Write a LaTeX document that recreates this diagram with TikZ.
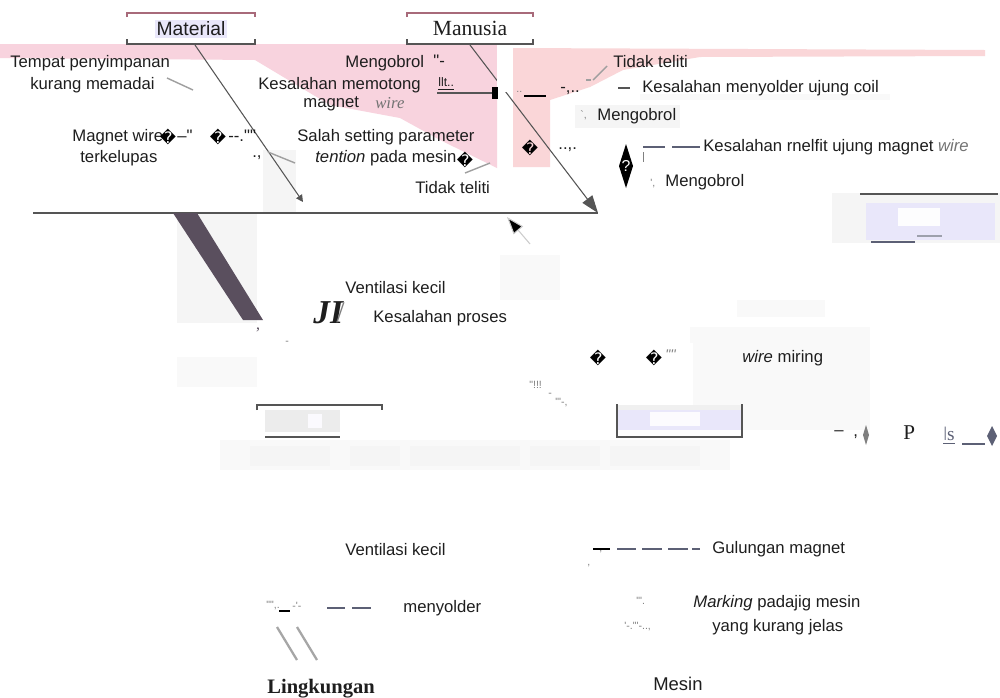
\documentclass[tikz,border=0pt]{standalone}
\usepackage{fontspec}
\setmainfont{Liberation Sans}
\newfontfamily\lsans{Liberation Sans}
\newfontfamily\lserif{Liberation Serif}
\newfontfamily\djv{DejaVu Sans}
\usetikzlibrary{arrows.meta,shapes.geometric}
\definecolor{pinkA}{HTML}{F8D3DE}
\definecolor{pinkB}{HTML}{FAD6D8}
\definecolor{lgray}{HTML}{F5F5F5}
\definecolor{fgray}{HTML}{F9F9F9}
\definecolor{lav}{HTML}{E9E7FA}
\definecolor{txt}{HTML}{1E1E1E}
\definecolor{linec}{HTML}{555555}
\definecolor{thickc}{HTML}{5A4F5E}
\definecolor{topred}{HTML}{A86A7A}
\definecolor{slate}{HTML}{5C6075}
\tikzset{
  lbl/.style={anchor=west, inner sep=0pt, text=txt, font=\lsans\fontsize{9.5}{11}\selectfont},
  sm/.style={anchor=west, inner sep=0pt, text=gray, font=\lsans\fontsize{6}{7}\selectfont},
  rep/.style={anchor=center, inner sep=0pt, text=black, font=\djv\fontsize{9}{10}\selectfont},
  stroke/.style={draw=gray!75, line width=0.8pt},
  boneline/.style={draw=linec, line width=0.6pt},
  dashseg/.style={draw=slate, line width=1pt},
}
\begin{document}
\begin{tikzpicture}[x=0.02cm,y=-0.02cm]
\useasboundingbox (0,0) rectangle (1000,697);
\fill[white] (0,0) rectangle (1000,697);
% faint gray patches
\fill[lgray] (177,213) rectangle (257,323);
\fill[lgray] (263,150) rectangle (296,212);
\fill[lgray] (575,105) rectangle (680,128);
\fill[fgray] (640,94) rectangle (890,100);
\fill[lgray] (832,193) rectangle (1000,243);
\fill[fgray] (737,300) rectangle (825,317);
\fill[fgray] (690,327) rectangle (870,343);
\fill[fgray] (693,343) rectangle (870,430);
\fill[fgray] (177,357) rectangle (257,387);
\fill[fgray] (500,255) rectangle (560,300);
\fill[fgray] (220,440) rectangle (730,470);
\fill[lgray] (250,446) rectangle (330,466);
\fill[lgray] (350,446) rectangle (400,466);
\fill[lgray] (410,446) rectangle (520,466);
\fill[lgray] (530,446) rectangle (600,466);
\fill[lgray] (610,446) rectangle (700,466);
% pink regions
\fill[pinkA] (0,44) -- (497,44) -- (497,168) -- (440,140) -- (400,118) -- (330,105) -- (255,60) -- (0,58) -- cycle;
\fill[pinkB] (513,48) -- (985,50) -- (985,56) -- (700,57) -- (623,70) -- (590,87) -- (550,100) -- (550,167) -- (513,167) -- cycle;
% Material box
\node[fill=lav, inner sep=1pt, minimum height=10pt, text=txt, font=\lsans\fontsize{11}{13}\selectfont] (mat) at (191,29) {Material};
\draw[topred, line width=0.8pt] (127,17) -- (127,13) -- (255,13) -- (255,17);
\draw[linec, line width=0.8pt] (127,39) -- (127,44) -- (255,44) -- (255,39);
% Manusia box
\fill[white] (407,13) rectangle (533,44);
\node[inner sep=1pt, text=txt, font=\lserif\fontsize{12.3}{14}\selectfont] (man) at (470,28) {Manusia};
\draw[topred, line width=0.8pt] (407,17) -- (407,13) -- (533,13) -- (533,17);
\draw[linec, line width=0.8pt] (407,39) -- (407,44) -- (533,44) -- (533,39);
% spine and bones
\coordinate (spL) at (33,213);
\coordinate (spR) at (598,213);
\draw[linec, line width=0.7pt] (spL) -- (spR);
\coordinate (matb) at (195,45);
\coordinate (matE) at (303,202);
\draw[boneline, -{Triangle[length=4pt,width=4pt]}] (matb) -- (matE);
\coordinate (manb) at (470,45);
\draw[boneline, -{Triangle[length=10pt,width=7pt]}] (manb) -- (spR);
\fill[white] (497,45) rectangle (513,92);
\coordinate (mesA) at (530,244);
\coordinate (mesE) at (507,217);
\draw[draw=gray!40, line width=0.6pt, -{Triangle[length=10pt,width=7pt,fill=black]}] (mesA) -- (mesE);
% thick Lingkungan bar
\fill[thickc] (173,213) -- (197,213) -- (263,320) -- (243,320) -- cycle;
\node[inner sep=0pt, text=thickc, font=\lserif\fontsize{9}{10}\selectfont] (comma1) at (258,330) {,};
% small strokes
\draw[stroke] (167,78) -- (193,90);
\draw[stroke] (268,152) -- (295,163);
\draw[stroke] (465,173) -- (490,163);
\draw[stroke] (593,80) -- (607,66);
\draw[stroke] (586,80) -- (591,80);
% Kesalahan memotong arrow
\coordinate (kmA) at (437,93);
\coordinate (kmB) at (493,93);
\draw[linec, line width=0.7pt] (kmA) -- (kmB);
\fill[black] (492,87) rectangle (498,99);
% left texts
\node[lbl] (t1) at (10,63) {Tempat penyimpanan};
\node[lbl] (t2) at (30,85) {kurang memadai};
\node[lbl] (t3) at (72,137) {Magnet wire};
\node[rep] (r1) at (168,137) {\char"FFFD};
\node[lbl] (t3b) at (177,136) {–"};
\node[rep] (r2) at (218,137) {\char"FFFD};
\node[lbl] (t3c) at (228,136) {-{}-{}.""};
\node[lbl] (t4) at (80,158) {terkelupas};
\node[lbl] (t5) at (252,158) {.,};
\node[lbl] (t6) at (345,63) {Mengobrol};
\node[lbl] (t6b) at (433,61) {"-};
\node[lbl] (t7) at (258,85) {Kesalahan memotong};
\node[anchor=west, inner sep=0pt, text=txt, font=\lsans\fontsize{7}{8}\selectfont] (t7b) at (438,84) {\underline{llt..}};
\node[anchor=west, inner sep=0pt, text=txt, font=\lsans\fontsize{9.5}{11}\selectfont] (t8) at (303,104) {magnet\,};
\node[anchor=west, inner sep=0pt, text=gray!90!black, font=\lserif\itshape\fontsize{9.5}{11}\selectfont] (t8b) at (375,103) {wire};
\node[lbl] (t9) at (297,137) {Salah setting parameter};
\node[lbl] (t10) at (315,158) {\textit{tention} pada mesin};
\node[rep] (r3) at (465,160) {\char"FFFD};
\node[lbl] (t11) at (415,188) {Tidak teliti};
% right texts
\node[lbl] (t12) at (613,62) {Tidak teliti};
\node[sm] (t13) at (516,92) {..};
\draw[black, line width=1pt] (524,96) -- (546,96);
\node[lbl] (t14) at (560,91) {-,..};
\draw[linec, line width=0.7pt] (618,88) -- (630,88);
\node[lbl] (t15) at (642,88) {Kesalahan menyolder ujung coil};
\node[sm] (t16) at (580,115) {`,};
\node[lbl] (t17) at (597,116) {Mengobrol};
\node[rep] (r4) at (530,148) {\char"FFFD};
\node[lbl] (t18) at (558,150) {..,.};
\draw[dashseg] (643,147) -- (665,147);
\draw[dashseg] (672,147) -- (700,147);
\node[lbl] (t19) at (703,147) {Kesalahan rnelfit ujung magnet {\color{gray!90!black}\textit{wire}}};
\fill[black] (626,144) -- (633,166) -- (626,188) -- (619,166) -- cycle;
\node[inner sep=0pt, text=white, font=\lsans\fontsize{9}{10}\selectfont] (q1) at (626,166) {?};
\draw[gray, line width=0.5pt] (643,152) -- (643,162);
\node[sm] (t20) at (650,184) {',};
\node[lbl] (t21) at (665,182) {Mengobrol};
% right box
\draw[linec, line width=0.8pt] (860,194) -- (998,194);
\fill[lav] (866,203) rectangle (995,240);
\fill[white!90!lav] (898,208) rectangle (940,226);
\draw[slate, line width=1.2pt] (871,242) -- (915,242);
\draw[slate!60, line width=0.8pt] (917,236) -- (942,236);
% middle lower texts
\node[lbl] (t22) at (345,288) {Ventilasi kecil};
\node[anchor=west, inner sep=0pt, text=txt, font=\lserif\bfseries\itshape\fontsize{19}{21}\selectfont] (t23) at (313,313) {JI};
\node[anchor=west, inner sep=0pt, text=gray, font=\lserif\fontsize{17}{19}\selectfont] (t23b) at (336,313) {/};
\node[lbl] (t24) at (373,318) {Kesalahan proses};
\node[sm] (t25) at (285,343) {-};
\node[rep] (r5) at (598,358) {\char"FFFD};
\node[rep] (r6) at (654,358) {\char"FFFD};
\node[anchor=west, inner sep=0pt, text=gray, font=\lsans\itshape\fontsize{8}{9}\selectfont] (t26) at (665,355) {"''};
\node[lbl] (t27) at (742,358) {\textit{wire} miring};
\node[sm] (t28) at (529,385) {"!!!};
\node[sm] (t29) at (548,395) {-};
\node[sm] (t30) at (555,403) {"'-,};
% Lingkungan box
\draw[linec, line width=0.7pt] (257,410) -- (257,405) -- (382,405) -- (382,410);
\fill[gray!15] (265,410) rectangle (340,432);
\fill[white!85!gray] (272,414) rectangle (283,428);
\fill[white!85!gray] (290,414) rectangle (302,428);
\fill[white!80!lav] (308,414) rectangle (322,428);
\draw[linec, line width=0.8pt] (265,437) -- (340,437);
% Mesin box
\fill[gray!12] (617,405) rectangle (742,410);
\fill[lav] (617,410) rectangle (742,430);
\fill[white!85!lav] (650,412) rectangle (700,426);
\draw[linec, line width=0.6pt] (617,404) -- (617,437) -- (742,437) -- (742,404);
% right-bottom glyphs
\node[lbl] (t31) at (834,433) {–};
\node[lbl] (t32) at (853,437) {,};
\fill[gray] (866,425) -- (869,435) -- (866,445) -- (863,435) -- cycle;
\node[anchor=west, inner sep=0pt, text=txt, font=\lserif\fontsize{12}{14}\selectfont] (t33) at (903,433) {P};
\node[anchor=west, inner sep=0pt, text=slate, font=\lserif\fontsize{11}{13}\selectfont] (t34) at (943,436) {\underline{ǀs}};
\draw[slate, line width=1pt] (962,444) -- (985,444);
\fill[slate] (992,426) -- (997,436) -- (992,446) -- (987,436) -- cycle;
% bottom section
\node[lbl] (t35) at (345,550) {Ventilasi kecil};
\node[sm] (t36) at (599,552) {,};
\node[sm] (t37) at (587,566) {,};
\draw[black, line width=1pt] (593,549) -- (610,549);
\draw[dashseg] (617,549) -- (636,549);
\draw[dashseg] (642,549) -- (662,549);
\draw[dashseg] (668,549) -- (688,549);
\draw[dashseg, line width=0.7pt] (692,549) -- (700,549);
\node[lbl] (t38) at (712,549) {Gulungan magnet};
\node[sm] (t39) at (266,606) {"",.};
\draw[black, line width=0.7pt] (279,611) -- (290,611);
\node[sm] (t40) at (292,606) {-'-};
\draw[dashseg] (327,608) -- (345,608);
\draw[dashseg] (352,608) -- (371,608);
\node[lbl] (t41) at (403,608) {menyolder};
\draw[gray!70, line width=1.3pt] (277,627) -- (297,660);
\draw[gray!70, line width=1.3pt] (297,627) -- (317,660);
\node[anchor=west, inner sep=0pt, text=txt, font=\lserif\bfseries\fontsize{11.7}{13}\selectfont] (t42) at (267,689) {Lingkungan};
\node[sm] (t43) at (636,601) {"'.};
\node[sm] (t44) at (624,627) {'-."'-..,};
\node[lbl] (t45) at (693,603) {\textit{Marking} padajig mesin};
\node[lbl] (t46) at (712,627) {yang kurang jelas};
\node[anchor=west, inner sep=0pt, text=txt, font=\lsans\fontsize{10.5}{12}\selectfont] (t47) at (653,684) {Mesin};
\end{tikzpicture}
\end{document}
